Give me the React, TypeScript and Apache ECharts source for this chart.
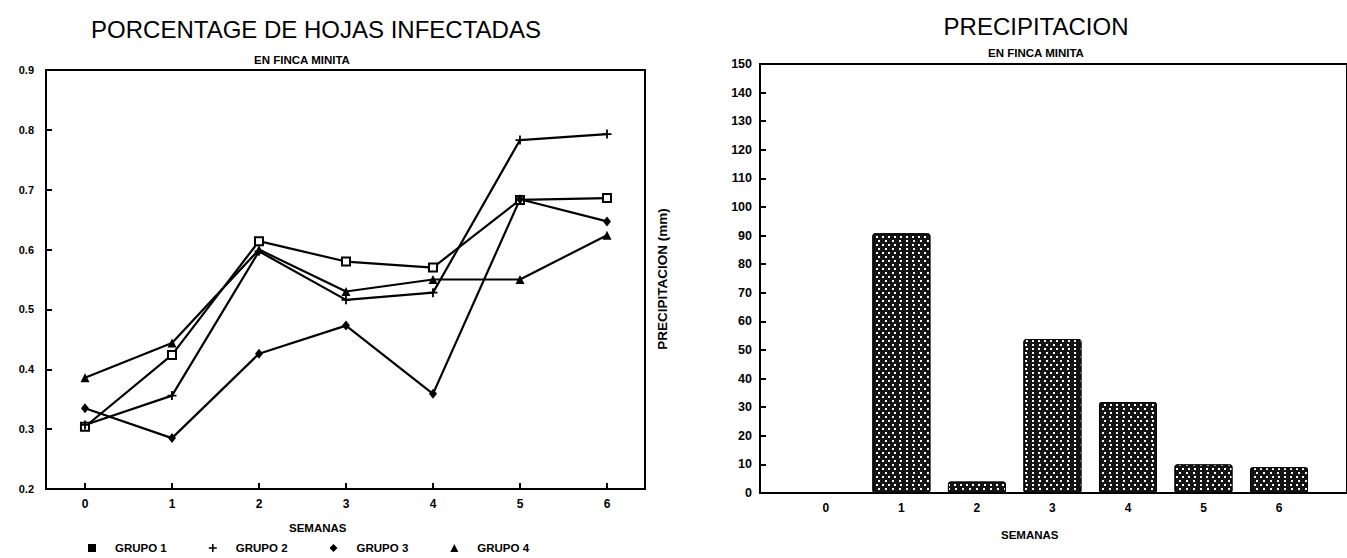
import { useEffect, useRef } from "react";
import * as echarts from "echarts";

// ---- data ----
const weeks = [0, 1, 2, 3, 4, 5, 6];
const grupo1 = [0.304, 0.424, 0.614, 0.58, 0.57, 0.683, 0.686];
const grupo2 = [0.307, 0.356, 0.597, 0.516, 0.528, 0.783, 0.793];
const grupo3 = [0.335, 0.285, 0.426, 0.473, 0.359, 0.684, 0.647];
const grupo4 = [0.386, 0.444, 0.6, 0.53, 0.55, 0.55, 0.624];
const precipitacion = [0, 90.8, 4, 53.8, 31.8, 10, 9];
const groupNames = ["GRUPO 1", "GRUPO 2", "GRUPO 3", "GRUPO 4"];

const leftTitle = "PORCENTAGE DE HOJAS INFECTADAS";
const rightTitle = "PRECIPITACION";
const subTitle = "EN FINCA MINITA";
const xName = "SEMANAS";
const rightYName = "PRECIPITACION (mm)";

const PLUS = "path://M4,0H6V4H10V6H6V10H4V6H0V4H4Z";
const FONT = "'Liberation Sans', Arial, sans-serif";

export default function App() {
  const ref = useRef<HTMLDivElement>(null);

  useEffect(() => {
    if (!ref.current) return;
    const chart = echarts.init(ref.current, null, { renderer: "svg" });

    const boldLabel = { fontFamily: FONT, fontWeight: "bold" as const, fontSize: 12, color: "#000" };
    const symbols = ["emptyRect", PLUS, "diamond", "triangle"];
    const symbolSizes: any[] = [8, 9, [8, 10], 9];
    const groups = [grupo1, grupo2, grupo3, grupo4];

    const lineSeries = groups.map((g, i) => ({
      name: groupNames[i],
      type: "line",
      xAxisIndex: 0,
      yAxisIndex: 0,
      data: weeks.map((w, j) => [w, g[j]]),
      symbol: symbols[i],
      symbolSize: symbolSizes[i],
      showAllSymbol: true,
      lineStyle: { color: "#000", width: 2.2 },
      itemStyle: { color: "#000", borderColor: "#000", borderWidth: i === 0 ? 2 : 0 },
    }));

    chart.setOption({
      animation: false,
      backgroundColor: "#fff",
      title: [
        {
          text: leftTitle,
          left: 311,
          top: 12,
          textAlign: "center",
          textStyle: { fontFamily: FONT, fontWeight: "normal", fontSize: 24, color: "#000" },
        },
        {
          text: subTitle,
          left: 297,
          top: 49,
          textAlign: "center",
          textStyle: { fontFamily: FONT, fontWeight: "bold", fontSize: 11.5, color: "#000" },
        },
        {
          text: rightTitle,
          left: 1031,
          top: 9,
          textAlign: "center",
          textStyle: { fontFamily: FONT, fontWeight: "normal", fontSize: 24, color: "#000" },
        },
        {
          text: subTitle,
          left: 1031,
          top: 42,
          textAlign: "center",
          textStyle: { fontFamily: FONT, fontWeight: "bold", fontSize: 11.5, color: "#000" },
        },
      ],
      legend: {
        left: 88,
        top: 542,
        padding: 0,
        itemWidth: 8,
        itemHeight: 8,
        itemGap: 42,
        textStyle: { ...boldLabel, fontSize: 11.5, padding: [0, 0, 0, 14] },
        data: groupNames.map((n, i) => ({
          name: n,
          icon: ["rect", PLUS, "diamond", "triangle"][i],
          itemStyle: { color: "#000", borderWidth: 0 },
        })),
      },
      grid: [
        {
          left: 46,
          right: 702,
          top: 70,
          bottom: 69,
          show: true,
          borderColor: "#000",
          borderWidth: 2,
          backgroundColor: "transparent",
        },
        {
          left: 760,
          right: -10,
          top: 64,
          bottom: 65,
          show: true,
          borderColor: "#000",
          borderWidth: 2,
          backgroundColor: "transparent",
        },
      ],
      xAxis: [
        {
          type: "value",
          gridIndex: 0,
          min: -0.448,
          max: 6.437,
          axisLine: { show: true, onZero: false, lineStyle: { color: "#000", width: 2 } },
          axisTick: { show: true, inside: true, length: 6, customValues: weeks, lineStyle: { color: "#000", width: 2 } },
          axisLabel: { ...boldLabel, margin: 9, customValues: weeks },
          splitLine: { show: false },
        },
        {
          type: "value",
          gridIndex: 1,
          min: -0.872,
          max: 6.9,
          axisLine: { show: true, onZero: false, lineStyle: { color: "#000", width: 2 } },
          axisTick: { show: false, customValues: weeks },
          axisLabel: { ...boldLabel, margin: 9, customValues: weeks },
          splitLine: { show: false },
        },
      ],
      yAxis: [
        {
          type: "value",
          gridIndex: 0,
          min: 0.2,
          max: 0.9,
          interval: 0.1,
          axisLine: { show: true, onZero: false, lineStyle: { color: "#000", width: 2 } },
          axisTick: { show: true, inside: true, length: 6, lineStyle: { color: "#000", width: 2 } },
          axisLabel: { ...boldLabel, fontSize: 11, margin: 12, formatter: (v: number) => v.toFixed(1) },
          splitLine: { show: false },
        },
        {
          type: "value",
          gridIndex: 1,
          min: 0,
          max: 150,
          interval: 10,
          axisLine: { show: true, onZero: false, lineStyle: { color: "#000", width: 2 } },
          axisTick: { show: true, inside: true, length: 6, lineStyle: { color: "#000", width: 2 } },
          axisLabel: { ...boldLabel, fontSize: 12.5, margin: 8 },
          splitLine: { show: false },
        },
      ],
      graphic: [
        {
          type: "text",
          left: 318 - 29,
          top: 522,
          style: { text: xName, fontFamily: FONT, fontWeight: "bold", fontSize: 11.5, fill: "#000" },
        },
        {
          type: "text",
          left: 1030 - 29,
          top: 529,
          style: { text: xName, fontFamily: FONT, fontWeight: "bold", fontSize: 11.5, fill: "#000" },
        },
        {
          type: "text",
          x: 662,
          y: 279,
          rotation: Math.PI / 2,
          style: {
            text: rightYName,
            fontFamily: FONT,
            fontWeight: "bold",
            fontSize: 13.5,
            fill: "#000",
            align: "center",
            verticalAlign: "middle",
          },
        },
      ],
      series: [
        ...lineSeries,
        {
          name: "precipitacion",
          type: "bar",
          xAxisIndex: 1,
          yAxisIndex: 1,
          barWidth: 58,
          data: weeks.map((w, j) => [w, precipitacion[j]]),
          itemStyle: {
            color: "#141414",
            borderColor: "#000",
            borderWidth: 1,
            borderRadius: 2,
            decal: {
              symbol: "rect",
              symbolSize: 1,
              color: "#ffffff",
              dashArrayX: [[1.4, 3.6], [0, 2.5, 1.4, 1.1]],
              dashArrayY: [1.4, 1.1],
              rotation: 0,
            },
          },
        },
      ],
    });

    return () => chart.dispose();
  }, []);

  return (
    <div
      ref={ref}
      style={{ position: "fixed", left: 0, top: 0, width: 1347, height: 558 }}
    />
  );
}
